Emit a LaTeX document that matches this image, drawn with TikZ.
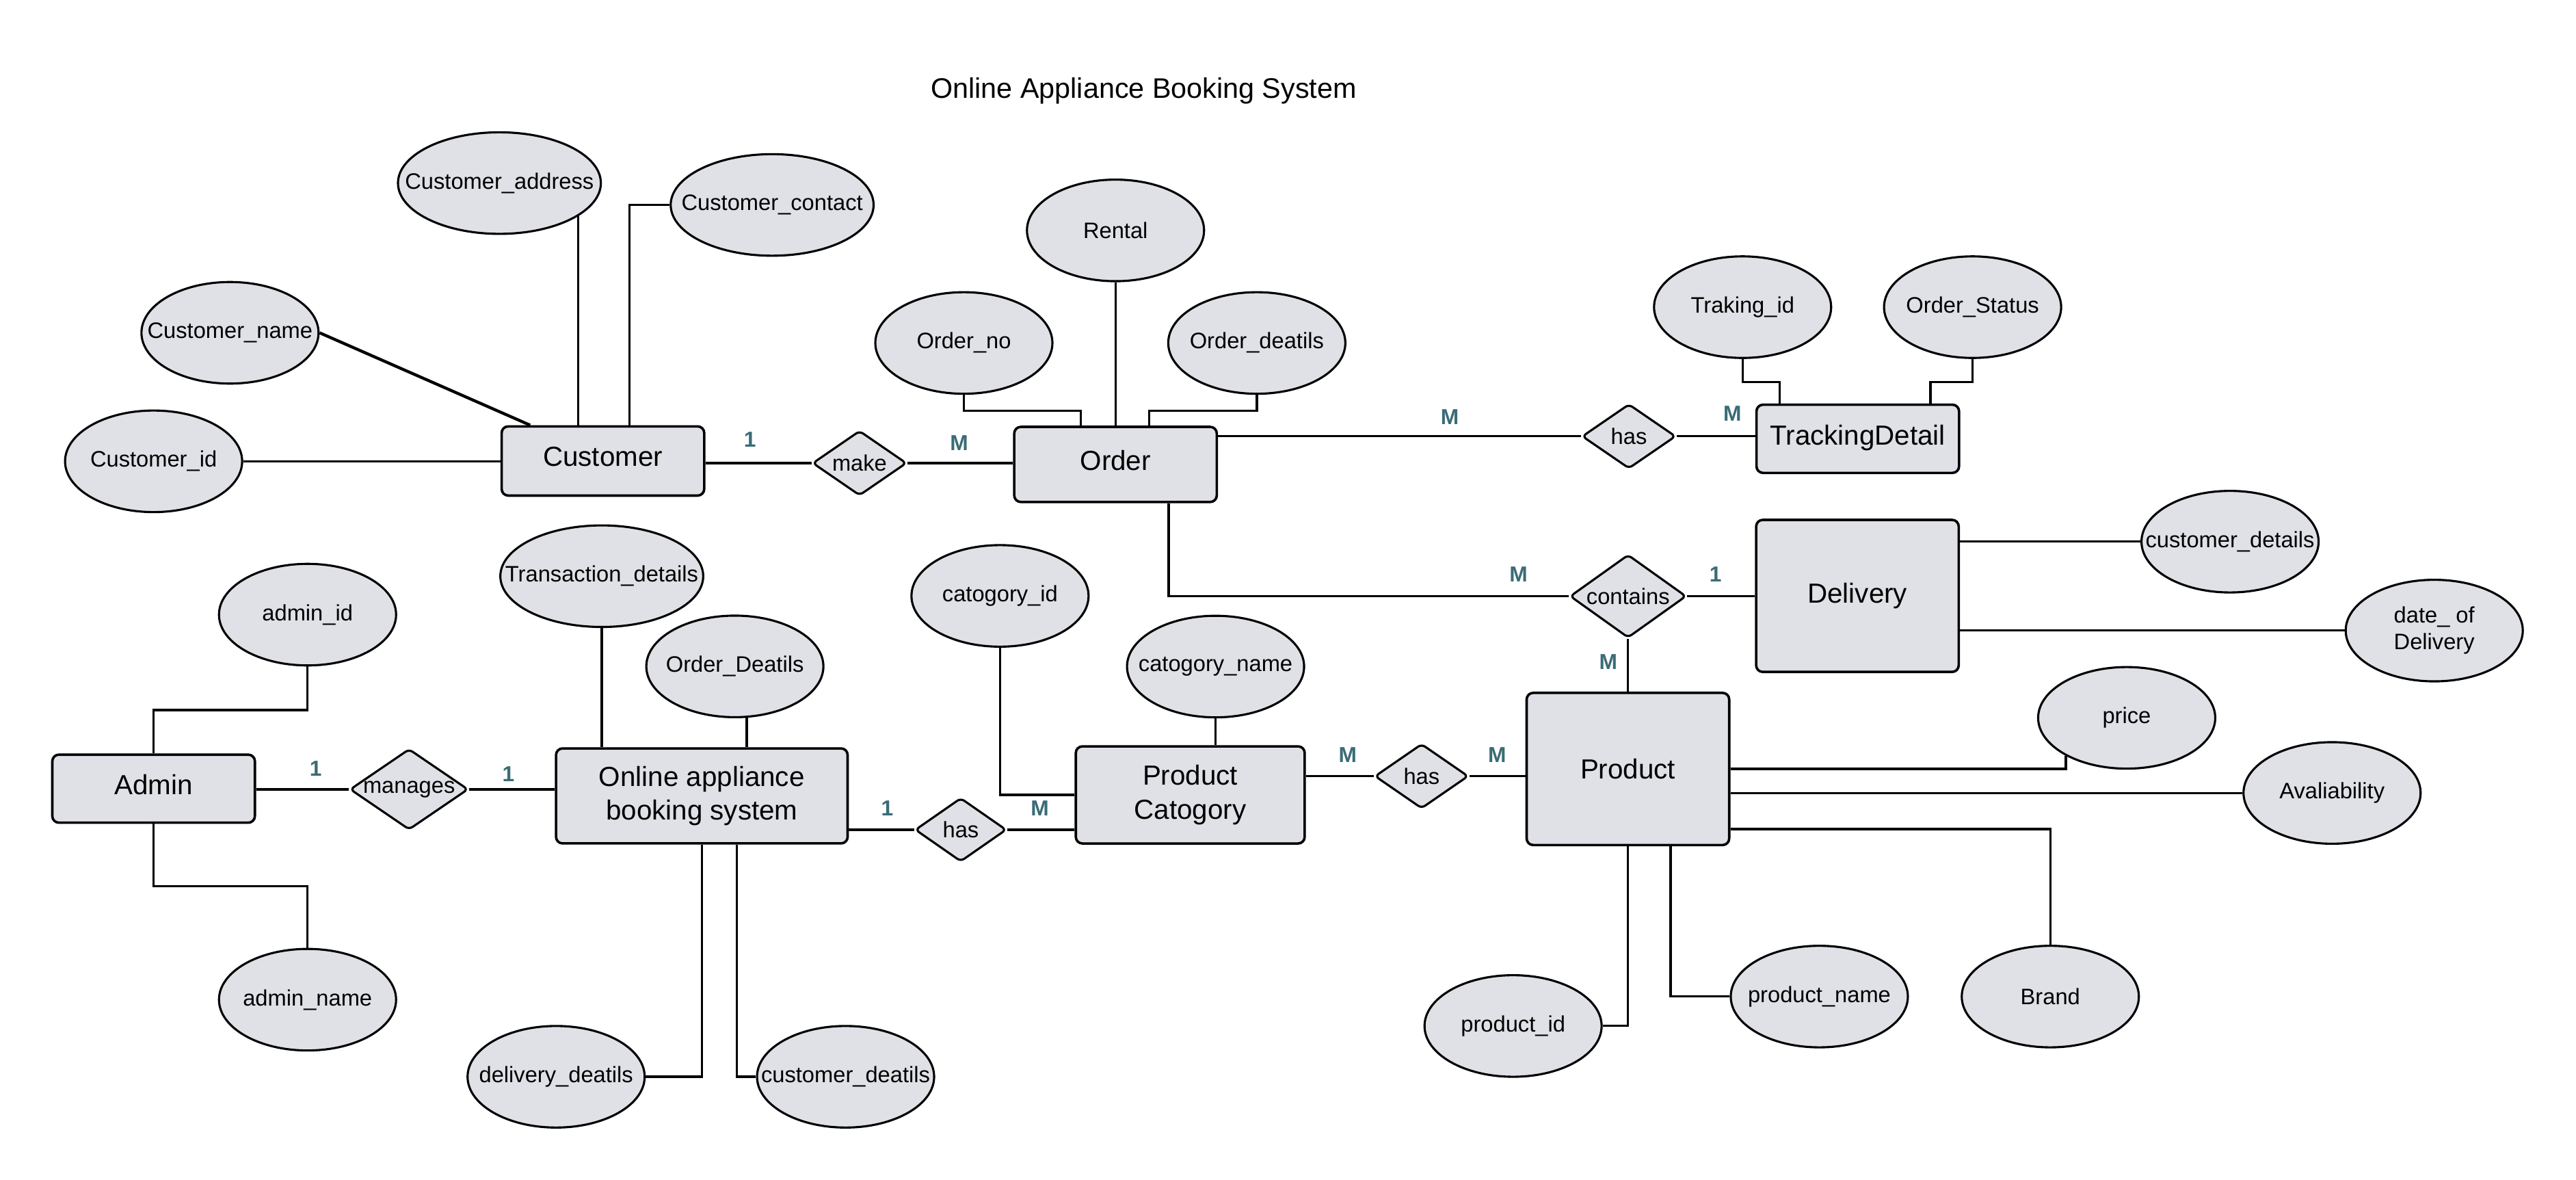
\documentclass[tikz,border=0pt]{standalone}
\usepackage{fontspec}
\setmainfont{Liberation Sans}
\usetikzlibrary{shapes.geometric}
\definecolor{shapefill}{RGB}{223,225,230}
\definecolor{cardteal}{RGB}{58,108,118}
\newcommand{\zw}[1]{\makebox[0pt]{#1}}
\begin{document}
\begin{tikzpicture}[x=1pt,y=-1pt,
  entity/.style={draw, line width=1.5pt, rounded corners=4pt, fill=shapefill, minimum width=123.3pt, inner sep=2pt, font=\fontsize{16.8}{20.5}\selectfont, align=center},
  shortent/.style={entity, text depth=5pt},
  attr/.style={draw, ellipse, line width=1.3pt, fill=shapefill, minimum width=107.8pt, minimum height=61.8pt, inner sep=0pt, font=\fontsize{13.6}{16.2}\selectfont},
  wideattr/.style={attr, minimum width=123.5pt},
  rel/.style={draw, diamond, line width=1.3pt, rounded corners=2.5pt, fill=shapefill, inner sep=0pt, font=\fontsize{13.6}{16}\selectfont},
  card/.style={text=cardteal, font=\fontsize{13.2}{15}\selectfont\bfseries, inner sep=0pt},
  conn/.style={line width=1.35pt},
]
\fill[white] (0,0) rectangle (1568,718);
\useasboundingbox (0,0) rectangle (1568,718);

% title
\node[font=\fontsize{17.2}{20}\selectfont, anchor=base, inner sep=0pt] (title) at (696.2,59.6) {Online Appliance Booking System};

% entities
\node[shortent, minimum height=42.1pt] (cust) at (367,280.5) {Customer};
\node[shortent, minimum height=45.7pt] (ord) at (679,282.6) {Order};
\node[shortent, minimum height=41.5pt] (track) at (1130.8,267) {TrackingDetail};
\node[entity, minimum height=92.5pt] (deliv) at (1130.6,362.6) {Delivery};
\node[entity, minimum height=92.6pt] (prod) at (990.9,467.9) {Product};
\node[entity, minimum width=139.3pt, minimum height=59.1pt] (cat) at (724.5,483.7) {Product\\Catogory};
\node[entity, minimum width=177.5pt, minimum height=57.8pt] (oabs) at (427.2,484.3) {Online appliance\\booking system};
\node[shortent, minimum height=41.4pt] (admin) at (93.5,479.9) {Admin};

% relationships
\node[rel, minimum width=57.3pt, minimum height=39.5pt] (make) at (523.2,281.8) {\zw{make}};
\node[rel, minimum width=57.1pt, minimum height=39.3pt] (hasT) at (991.5,265.5) {\zw{has}};
\node[rel, minimum width=70.8pt, minimum height=50.6pt] (contains) at (991,362.8) {\zw{contains}};
\node[rel, minimum width=57pt, minimum height=39.4pt] (hasP) at (865.3,472.3) {\zw{has}};
\node[rel, minimum width=55.6pt, minimum height=38.8pt] (hasC) at (584.8,504.9) {\zw{has}};
\node[rel, minimum width=72pt, minimum height=49.2pt] (manages) at (249,480.3) {\zw{manages}};

% attributes
\node[wideattr] (aCaddr) at (304,111.4) {\zw{Customer\_address}};
\node[wideattr] (aCcont) at (470,124.7) {\zw{Customer\_contact}};
\node[attr] (aCname) at (140,202.5) {\zw{Customer\_name}};
\node[attr] (aCid) at (93.5,280.7) {\zw{Customer\_id}};
\node[attr] (aRental) at (679,140.2) {\zw{Rental}};
\node[attr] (aOno) at (586.7,208.7) {\zw{Order\_no}};
\node[attr] (aOdet) at (765,208.7) {\zw{Order\_deatils}};
\node[attr] (aTid) at (1060.7,186.9) {\zw{Traking\_id}};
\node[attr] (aOstat) at (1200.7,186.9) {\zw{Order\_Status}};
\node[attr] (aDcust) at (1357.4,329.6) {\zw{customer\_details}};
\node[attr, align=center] (aDdate) at (1481.7,383.7) {date\_ of\\Delivery};
\node[attr] (aPprice) at (1294.5,436.8) {\zw{price}};
\node[attr] (aPavail) at (1419.5,482.5) {\zw{Avaliability}};
\node[attr] (aPbrand) at (1248,606.4) {\zw{Brand}};
\node[attr] (aPname) at (1107.4,606.4) {\zw{product\_name}};
\node[attr] (aPid) at (921,624.3) {\zw{product\_id}};
\node[attr] (aCatid) at (608.7,362.6) {\zw{catogory\_id}};
\node[attr] (aCatname) at (739.9,405.6) {\zw{catogory\_name}};
\node[wideattr] (aTrans) at (366.3,350.6) {\zw{Transaction\_details}};
\node[attr] (aOD) at (447.3,405.5) {\zw{Order\_Deatils}};
\node[attr] (aAid) at (187.2,374) {\zw{admin\_id}};
\node[attr] (aAname) at (187.2,608.3) {\zw{admin\_name}};
\node[attr] (aDeldet) at (338.5,655.2) {\zw{delivery\_deatils}};
\node[attr] (aCustdet) at (514.7,655.2) {\zw{customer\_deatils}};

% connectors
\begin{scope}[conn]
% Customer
\draw (aCid.east) -- (aCid.east -| cust.west);
\draw[line width=1.8pt] (aCname.east) -- ([xshift=-44.3pt]cust.north);
\draw (aCaddr.-23.9) -- (aCaddr.-23.9 |- cust.north);
\draw (aCcont.west) -| ([xshift=16pt]cust.north);
\draw (make.west -| cust.east) -- (make.west);
\draw (make.east) -- (make.east -| ord.west);
% Order
\draw (aOno.south) -- ++(0,9.8) -| ([xshift=-21.1pt]ord.north);
\draw (aRental.south) -- (ord.north);
\draw (aOdet.south) -- ++(0,9.8) -| ([xshift=20.5pt]ord.north);
\draw (hasT.west) -- (hasT.west -| ord.east);
\draw (hasT.east) -- (hasT.east -| track.west);
\draw ([xshift=32.4pt]ord.south) |- (contains.west);
% TrackingDetail
\draw (aTid.south) -- ++(0,13.9) -| ([xshift=-47.6pt]track.north);
\draw (aOstat.south) -- ++(0,13.9) -| ([xshift=44.2pt]track.north);
% Delivery
\draw (contains.east) -- (contains.east -| deliv.west);
\draw (aDcust.west -| deliv.east) -- (aDcust.west);
\draw (aDdate.west -| deliv.east) -- (aDdate.west);
% Product
\draw (contains.south) -- (contains.south |- prod.north);
\draw (prod.east) -| (aPprice.212.1);
\draw (aPavail.west -| prod.east) -- (aPavail.west);
\draw ([yshift=-36.6pt]prod.east) -| (aPbrand.north);
\draw (prod.south) |- (aPid.east);
\draw ([xshift=26pt]prod.south) |- (aPname.west);
\draw (hasP.west) -- (hasP.west -| cat.east);
\draw (hasP.east) -- (hasP.east -| prod.west);
% Product Catogory
\draw (aCatname.south) -- (aCatname.south |- cat.north);
\draw (aCatid.south) |- (cat.west);
\draw (hasC.west) -- (hasC.west -| oabs.east);
\draw (hasC.east) -- (hasC.east -| cat.west);
% Online appliance booking system
\draw (aTrans.south) -- (aTrans.south |- oabs.north);
\draw (aOD.-77) -- (aOD.-77 |- oabs.north);
\draw (oabs.south) |- (aDeldet.east);
\draw ([xshift=21.4pt]oabs.south) |- (aCustdet.west);
\draw (manages.east) -- (manages.east -| oabs.west);
% Admin
\draw (manages.west -| admin.east) -- (manages.west);
\draw (aAid.south) -- ++(0,26.5) -| (admin.north);
\draw (admin.south) -- ++(0,37.9) -| (aAname.north);
\end{scope}

% cardinalities
\node[card] (c1) at (456.5,267.5) {1};
\node[card] (c2) at (583.8,269.7) {M};
\node[card] (c3) at (882.5,253.8) {M};
\node[card] (c4) at (1054.5,251.7) {M};
\node[card] (c5) at (924.3,349.6) {M};
\node[card] (c6) at (1044.2,349.6) {1};
\node[card] (c7) at (978.9,402.7) {M};
\node[card] (c8) at (820.3,459.2) {M};
\node[card] (c9) at (911.3,459.3) {M};
\node[card] (c10) at (540,491.8) {1};
\node[card] (c11) at (632.9,491.8) {M};
\node[card] (c12) at (192.2,467.8) {1};
\node[card] (c13) at (309.5,471.1) {1};
\end{tikzpicture}
\end{document}
